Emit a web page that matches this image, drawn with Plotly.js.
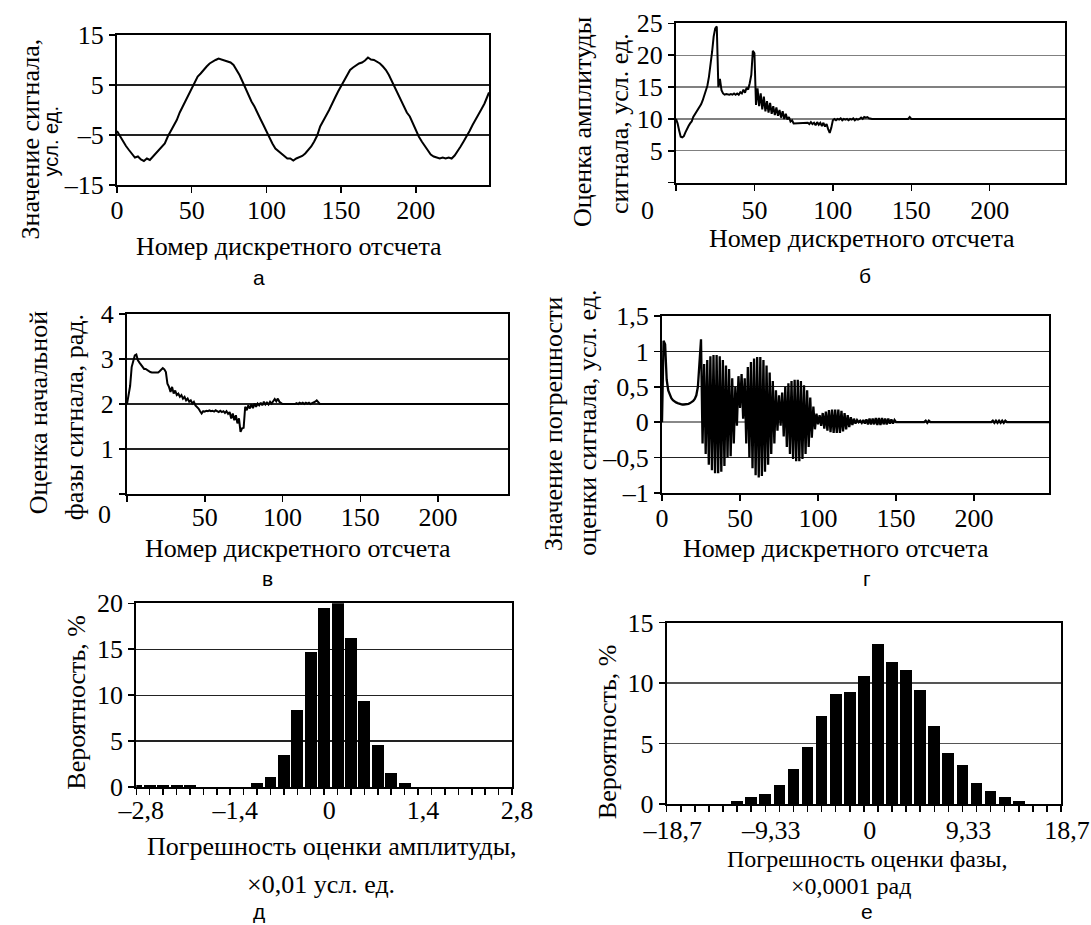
<!DOCTYPE html>
<html><head><meta charset="utf-8">
<script src="https://cdn.plot.ly/plotly-3.0.1.min.js"></script>
<style>html,body{margin:0;padding:0;background:#fff}#chart{width:1091px;height:925px}</style>
</head><body><div id="chart"></div>
<script>
// ---------- DATA ----------
// (а) signal
const sigX = [0,2,4,6,8,10,12,14,16,18,20,22,24,26,28,30,32,34,36,38,40,42,44,46,48,50,52,54,56,58,60,62,64,66,68,70,72,74,76,78,80,82,84,86,88,90,92,94,96,98,100,102,104,106,108,110,112,114,116,118,120,122,124,126,128,130,132,134,136,138,140,142,144,146,148,150,152,154,156,158,160,162,164,166,168,170,172,174,176,178,180,182,184,186,188,190,192,194,196,198,200,202,204,206,208,210,212,214,216,218,220,222,224,226,228,230,232,234,236,238,240,242,244,246,248,249];
const sigY = [-4.2,-5.3,-6.2,-7.2,-8.0,-8.7,-9.5,-9.3,-9.9,-10.2,-9.7,-10.0,-9.3,-8.7,-8.0,-7.3,-6.7,-5.3,-4.2,-3.3,-2.0,-0.5,0.7,2.0,3.3,4.5,5.7,6.7,7.3,8.1,8.7,9.3,9.7,10.0,10.3,10.1,10.0,9.8,9.5,9.0,8.0,7.0,5.7,4.3,3.0,1.7,0.7,-0.7,-1.8,-3.0,-4.3,-5.3,-6.7,-7.7,-8.2,-8.7,-9.3,-9.7,-9.7,-10.1,-9.7,-9.5,-9.2,-8.7,-8.0,-7.3,-6.3,-5.1,-3.3,-2.3,-1.1,0.0,1.1,2.5,3.7,4.8,5.7,6.9,8.0,8.5,8.9,9.3,9.5,9.9,10.5,10.1,10.0,9.7,9.3,8.7,8.0,7.0,5.7,4.5,3.3,2.0,0.7,-0.5,-1.3,-2.7,-4.0,-5.3,-6.3,-7.1,-8.0,-8.9,-9.3,-9.5,-9.7,-9.5,-9.7,-9.5,-9.7,-9.1,-8.3,-7.3,-6.3,-5.3,-4.2,-3.0,-2.0,-1.0,0.2,1.3,2.6,3.5];

// (б) amplitude estimate
const ampX = [0,1,2,3,4,5,6,7,8,9,10,11,12,13,14,15,16,17,18,19,20,21,22,23,24,25,26,27,28,29,30,31,32,33,34,35,36,37,38,39,40,41,42,43,44,45,46,47,48,49,50,51,52,53,54,55,56,57,58,59,60,61,62,63,64,65,66,67,68,69,70,71,72,73,74,75,76,77,78,79,80,81,82,83,84,85,86,87,88,89,90,91,92,93,94,95,96,97,98,99,100,101,102,103,104,105,106,107,108,109,110,111,112,113,114,115,116,117,118,119,120,121,122,123,124,125,148,149,150,248];
const ampY = [10.0,9.3,8.2,7.2,7.1,7.3,7.9,8.5,8.9,9.3,
  9.6,10.3,10.7,11.0,11.4,11.7,12.3,12.9,13.7,14.5,
  15.2,16.6,18.4,20.5,22.9,24.2,24.5,15.0,16.3,14.5,
  14.0,13.8,13.9,13.8,13.8,13.9,13.8,14.0,13.8,14.0,
  13.8,14.2,14.0,14.6,14.1,14.9,14.6,15.6,16.9,20.7,
  20.3,12.2,14.8,12.0,14.0,11.5,13.5,11.2,12.8,11.0,
  12.5,10.8,12.0,10.6,11.8,10.5,11.4,10.2,11.2,10.0,
  10.8,9.9,10.3,9.6,9.8,9.3,9.3,9.4,9.4,9.4,
  9.4,9.4,9.4,9.3,9.4,9.2,9.5,9.2,9.4,9.0,
  9.5,9.1,9.4,8.9,9.4,8.8,9.2,8.4,7.8,8.6,
  9.8,10.0,9.8,10.0,9.9,10.1,9.8,10.0,9.9,10.0,
  9.8,10.0,9.9,10.1,9.8,10.0,9.9,10.0,10.2,10.0,
  10.3,10.2,10.3,10.1,10.0,10.0,
  10.0,10.3,10.0,10.0];

// (в) phase estimate
const phX = [0,1,2,3,4,5,6,7,8,9,10,11,12,13,14,15,16,17,18,19,20,21,22,23,24,25,26,27,28,29,30,31,32,33,34,35,36,37,38,39,40,41,42,43,44,45,46,47,48,49,50,51,52,53,54,55,56,57,58,59,60,61,62,63,64,65,66,67,68,69,70,71,72,73,74,75,76,77,78,79,80,81,82,83,84,85,86,87,88,89,90,91,92,93,94,95,96,97,98,99,100,101,102,103,104,105,106,107,108,109,110,111,112,113,114,115,116,117,118,119,120,121,122,123,124,245];
const phY = [2.0,2.2,2.4,2.82,2.97,3.08,3.1,2.97,2.92,2.87,
  2.82,2.78,2.78,2.75,2.74,2.71,2.7,2.7,2.7,2.7,
  2.7,2.73,2.76,2.8,2.77,2.71,2.45,2.38,2.27,2.38,
  2.23,2.3,2.2,2.23,2.16,2.2,2.12,2.16,2.08,2.12,
  2.05,2.08,2.01,2.05,1.97,1.94,1.9,1.84,1.79,1.84,
  1.83,1.85,1.84,1.86,1.84,1.85,1.83,1.86,1.84,1.82,
  1.85,1.82,1.84,1.8,1.84,1.78,1.82,1.68,1.79,1.64,
  1.75,1.57,1.68,1.38,1.46,1.47,1.94,1.86,1.97,1.9,
  1.99,1.91,2.01,1.94,2.01,1.97,2.03,1.97,2.05,1.99,
  2.03,1.99,2.05,2.01,2.06,2.11,2.06,2.12,2.05,2.02,
  2.0,2.0,2.0,2.0,2.0,2.0,2.0,2.0,2.0,2.02,
  2.0,2.03,2.01,2.03,2.0,2.03,2.01,2.03,2.0,2.02,
  2.03,2.05,2.08,2.03,2.0,
  2.0];

// (г) error of signal estimate
const errX = [0,1,2,3,4,5,6,7,8,9,10,11,12,13,14,15,16,17,18,19,20,21,22,23,24,25,26,27,28,29,30,31,32,33,34,35,36,37,38,39,40,41,42,43,44,45,46,47,48,49,50,51,52,53,54,55,56,57,58,59,60,61,62,63,64,65,66,67,68,69,70,71,72,73,74,75,76,77,78,79,80,81,82,83,84,85,86,87,88,89,90,91,92,93,94,95,96,97,98,99,100,101,102,103,104,105,106,107,108,109,110,111,112,113,114,115,116,117,118,119,120,121,122,123,124,125,126,127,128,129,130,131,132,133,134,135,136,137,138,139,140,141,142,143,144,145,146,147,148,149,150,168,169,170,171,172,211,212,213,214,215,216,217,218,219,220,221,248];
const errY = [0.0,1.15,1.1,0.6,0.45,0.38,0.34,0.31,0.29,0.28,
  0.27,0.26,0.25,0.25,0.25,0.25,0.25,0.26,0.27,0.28,
  0.3,0.33,0.38,0.5,0.8,1.17,-0.3,0.82,-0.45,0.88,
  -0.6,0.93,-0.68,0.95,-0.72,0.95,-0.72,0.93,-0.7,0.88,
  -0.62,0.8,-0.5,0.75,-0.48,0.62,-0.3,0.5,-0.05,0.65,
  0.2,0.68,0.05,0.62,-0.3,0.78,-0.5,0.85,-0.65,0.9,
  -0.75,0.92,-0.78,0.92,-0.76,0.88,-0.7,0.8,-0.6,0.7,
  -0.45,0.58,-0.3,0.45,-0.12,0.38,-0.05,0.42,-0.2,0.5,
  -0.35,0.55,-0.45,0.58,-0.52,0.6,-0.55,0.6,-0.55,0.58,
  -0.52,0.52,-0.45,0.45,-0.35,0.35,-0.22,0.22,-0.1,0.12,
  -0.03,0.1,-0.05,0.13,-0.09,0.15,-0.12,0.17,-0.14,0.18,
  -0.15,0.18,-0.15,0.18,-0.15,0.16,-0.13,0.13,-0.1,0.1,
  -0.07,0.07,-0.04,0.05,-0.02,0.03,0.0,0.02,-0.01,0.03,
  -0.02,0.04,-0.03,0.05,-0.03,0.05,-0.03,0.06,-0.04,0.06,
  -0.04,0.06,-0.03,0.05,-0.03,0.05,-0.02,0.04,-0.02,0.03,
  0.0,
  0.0,0.02,-0.01,0.02,0.0,
  0.0,0.02,-0.01,0.02,-0.01,0.02,-0.01,0.02,-0.01,0.02,0.0,
  0.0];

// (д) histogram of amplitude error, x0.01
const ampBins = [-2.8,-2.6,-2.4,-2.2,-2.0,-1.8,-1.6,-1.4,-1.2,-1.0,-0.8,-0.6,-0.4,-0.2,0,0.2,0.4,0.6,0.8,1.0,1.2,1.4,1.6,1.8,2.0,2.2,2.4,2.6,2.8];
const ampProb = [0.25,0.25,0.25,0.25,0.25,0,0,0,0,0.47,1.13,3.53,8.36,14.65,19.5,20.0,16.2,9.4,4.6,1.56,0.47,0,0,0,0,0,0,0,0];
const ampTickText = ['–2,8','','','','','','','–1,4','','','','','','','0','','','','','','','1,4','','','','','','','2,8'];

// (е) histogram of phase error, x0.0001 rad
const phBins = [-18.7,-17.364,-16.029,-14.693,-13.357,-12.021,-10.686,-9.35,-8.014,-6.679,-5.343,-4.007,-2.671,-1.336,0,1.336,2.671,4.007,5.343,6.679,8.014,9.35,10.686,12.021,13.357,14.693,16.029,17.364,18.7];
const phProb = [0,0,0,0,0,0.22,0.55,0.85,1.57,2.86,4.67,7.3,9.12,9.26,10.6,13.19,11.73,11.07,9.42,6.46,4.18,3.19,1.70,1.04,0.55,0.22,0,0,0];
const phTickText = ['–18,7','','','','','','','–9,33','','','','','','','0','','','','','','','9,33','','','','','','','18,7'];

// tick labels
const sampleTicks = [0,50,100,150,200];
const sigTicks = [-15,-5,5,15];
const sigTickText = ['–15','–5','5','15'];
const ampTicks = [0,5,10,15,20,25];
const ampTickTextY = ['','5','10','15','20','25'];
const phTicks = [0,1,2,3,4];
const phTickTextY = ['','1','2','3','4'];
const errTicks = [-1,-0.5,0,0.5,1,1.5];
const errTickText = ['–1','–0,5','0','0,5','1','1,5'];
const probTicks20 = [0,5,10,15,20];
const probTicks15 = [0,5,10,15];

// ---------- LAYOUT HELPERS ----------
const W = 1091, H = 925;
const SERIF = 'Liberation Serif, Times New Roman, serif';
const SANS = 'Liberation Sans, Arial, sans-serif';
const FS = 26;
const dx = (a, b) => [a / W, b / W];
const dy = (top, bot) => [1 - bot / H, 1 - top / H];

function xAxis(dom, range, tickvals, ticktext, anchor, extra) {
  return Object.assign({
    domain: dom, range: range, anchor: anchor, tickmode: 'array', tickvals: tickvals, ticktext: ticktext,
    ticks: 'outside', ticklen: 6, tickwidth: 1.5, tickcolor: '#000', ticklabelstandoff: -5,
    showline: true, linecolor: '#000', linewidth: 2, mirror: true,
    showgrid: false, zeroline: false, fixedrange: true,
    tickfont: {family: SERIF, size: FS, color: '#000'}
  }, extra || {});
}
function yAxis(dom, range, tickvals, ticktext, anchor, grid, extra) {
  return Object.assign({
    domain: dom, range: range, anchor: anchor, tickmode: 'array', tickvals: tickvals, ticktext: ticktext,
    ticks: 'outside', ticklen: 6, tickwidth: 1.5, tickcolor: '#000',
    showline: true, linecolor: '#000', linewidth: 2, mirror: true,
    showgrid: true, gridcolor: grid, gridwidth: 1.2, zeroline: false, fixedrange: true,
    tickfont: {family: SERIF, size: FS, color: '#000'}
  }, extra || {});
}
function txt(text, x, y, o) {
  return Object.assign({text: text, x: x / W, y: 1 - y / H, xref: 'paper', yref: 'paper', showarrow: false,
    xanchor: 'center', yanchor: 'middle', font: {family: SERIF, size: FS, color: '#000'}}, o || {});
}
const vert = {textangle: -90};
const letterFont = {font: {family: SANS, size: 21, color: '#000'}};
const letterBottom = {font: {family: SANS, size: 21, color: '#000'}, yanchor: 'bottom'};
const smallSerif = {font: {family: SERIF, size: 24, color: '#000'}};

const line = {color: '#000', width: 2};
const traces = [
  {type: 'scatter', mode: 'lines', x: sigX, y: sigY, line: line, xaxis: 'x', yaxis: 'y'},
  {type: 'scatter', mode: 'lines', x: ampX, y: ampY, line: line, xaxis: 'x2', yaxis: 'y2'},
  {type: 'scatter', mode: 'lines', x: phX, y: phY, line: line, xaxis: 'x3', yaxis: 'y3'},
  {type: 'scatter', mode: 'lines', x: errX, y: errY, line: {color: '#000', width: 2.3}, xaxis: 'x4', yaxis: 'y4'},
  {type: 'bar', x: ampBins, y: ampProb, width: 0.178, marker: {color: '#000', line: {width: 0}}, xaxis: 'x5', yaxis: 'y5'},
  {type: 'bar', x: phBins, y: phProb, width: 1.11, marker: {color: '#000', line: {width: 0}}, xaxis: 'x6', yaxis: 'y6'}
];

const layout = {
  width: W, height: H, margin: {l: 0, r: 0, t: 0, b: 0}, showlegend: false,
  paper_bgcolor: '#fff', plot_bgcolor: '#fff',
  xaxis:  xAxis(dx(117, 489), [0, 249], sampleTicks, ['0','50','100','150','200'], 'y'),
  yaxis:  yAxis(dy(35, 185), [-15, 15], sigTicks, sigTickText, 'x', '#222'),
  xaxis2: xAxis(dx(676, 1065), [0, 248], sampleTicks, ['','50','100','150','200'], 'y2', {ticklabelstandoff: -3}),
  yaxis2: yAxis(dy(23.3, 182.7), [0, 25], ampTicks, ampTickTextY, 'x2', '#808080'),
  xaxis3: xAxis(dx(127, 508), [0, 245], sampleTicks, ['','50','100','150','200'], 'y3', {ticklabelstandoff: -7}),
  yaxis3: yAxis(dy(314, 494), [0, 4], phTicks, phTickTextY, 'x3', '#222'),
  xaxis4: xAxis(dx(662, 1049), [0, 248], sampleTicks, ['0','50','100','150','200'], 'y4'),
  yaxis4: yAxis(dy(316, 493), [-1, 1.5], errTicks, errTickText, 'x4', '#222', {zeroline: true, zerolinecolor: '#888', zerolinewidth: 1.5}),
  xaxis5: xAxis(dx(136.3, 512), [-2.8, 2.8], ampBins, ampTickText, 'y5', {ticklabelstandoff: -7, ticklabelshift: 5}),
  yaxis5: yAxis(dy(603.3, 787), [0, 20], probTicks20, ['0','5','10','15','20'], 'x5', '#222'),
  xaxis6: xAxis(dx(666.7, 1061), [-18.7, 18.7], phBins, phTickText, 'y6', {ticklabelstandoff: -4, ticklabelshift: 6}),
  yaxis6: yAxis(dy(622.5, 804), [0, 15], probTicks15, ['0','5','10','15'], 'x6', '#555'),
  bargap: 0,
  annotations: [
    // (а)
    txt('Значение сигнала,', 29.5, 139, vert),
    txt('усл. ед.', 50.5, 142, Object.assign({font: {family: SANS, size: 20, color: '#000'}}, vert)),
    txt('Номер дискретного отсчета', 288.5, 247),
    txt('а', 259, 277, letterFont),
    // (б)
    txt('Оценка амплитуды', 583, 122, vert),
    txt('сигнала, усл. ед.', 620, 124, vert),
    txt('0', 647.5, 210),
    txt('Номер дискретного отсчета', 862, 238),
    txt('б', 865, 275, letterFont),
    // (в)
    txt('Оценка начальной', 38.3, 413, vert),
    txt('фазы сигнала, рад.', 74.7, 417.5, vert),
    txt('0', 104.3, 514),
    txt('Номер дискретного отсчета', 298, 548),
    txt('в', 267.6, 578, letterFont),
    // (г)
    txt('Значение погрешности', 553, 424, vert),
    txt('оценки сигнала, усл. ед.', 586.7, 423, vert),
    txt('Номер дискретного отсчета', 836, 548),
    txt('г', 866.5, 578, letterFont),
    // (д)
    txt('Вероятность, %', 75.7, 702, vert),
    txt('Погрешность оценки амплитуды,', 332, 846.7),
    txt('×0,01 усл. ед.', 320.7, 884),
    txt('д', 259, 925, letterBottom),
    // (е)
    txt('Вероятность, %', 607.5, 731.7, vert),
    txt('Погрешность оценки фазы,', 867.4, 859, smallSerif),
    txt('×0,0001 рад', 851, 886, smallSerif),
    txt('е', 866.5, 925, letterBottom)
  ]
};

Plotly.newPlot('chart', traces, layout, {staticPlot: true, displayModeBar: false});
</script></body></html>
